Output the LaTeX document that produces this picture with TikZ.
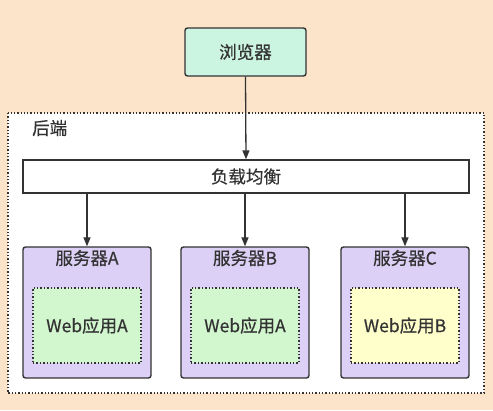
\documentclass[tikz,border=0pt]{standalone}
\usepackage{fontspec}
\setmainfont{Noto Sans CJK SC}
\newfontfamily\mfont{Noto Sans CJK SC}[FakeBold=0.5]
\usetikzlibrary{arrows.meta}
\definecolor{bgpeach}{HTML}{FCE4CA}
\definecolor{mint}{HTML}{CCF5E1}
\definecolor{lav}{HTML}{DCD0F7}
\definecolor{lgreen}{HTML}{D2F7CF}
\definecolor{lyellow}{HTML}{FFFFCC}
\definecolor{ink}{HTML}{333333}
\tikzset{
  box/.style={draw=ink, line width=1.4pt, rounded corners=2.5pt, inner sep=0pt},
  inbox/.style={draw=ink, line width=1.4pt, dotted, inner sep=0pt},
  arr/.style={draw=ink, line width=1.3pt, -{Triangle[length=9pt,width=7pt]}},
  lbl/.style={font=\mfont\fontsize{17.5}{20}\selectfont, text=ink},
}
\begin{document}
\begin{tikzpicture}[x=1pt,y=-1pt]
\useasboundingbox (0,0) rectangle (493,410);
\fill[bgpeach] (0,0) rectangle (493,410);
% backend
\draw[ink, line width=1.3pt, dotted, fill=white] (8,113) rectangle (484,393);
\node[lbl, anchor=west, inner sep=0pt] (backend) at (32,128) {后端};
% browser
\node[box, fill=mint, minimum width=121pt, minimum height=48pt, lbl] (browser) at (245.5,52) {浏览器};
% load balancer
\node[draw=ink, line width=1.4pt, fill=white, minimum width=446pt, minimum height=33pt, inner sep=0pt, lbl] (lb) at (246,176.5) {负载均衡};
\draw[arr] (browser.south) -- (lb.north);
% servers
\foreach \n/\cx/\t/\ap/\col in {sa/87/A/A/lgreen, sb/245/B/A/lgreen, sc/405/C/B/lyellow}{
  \node[box, fill=lav, minimum width=128pt, minimum height=131pt] (\n) at (\cx,312.5) {};
  \node[lbl] (\n t) at (\cx,258) {服务器\t};
  \node[inbox, fill=\col, minimum width=108pt, minimum height=75pt, lbl] (\n w) at (\cx,325.5) {Web应用\ap};
  \draw[arr] (lb.south -| \n.north) -- (\n.north);
}
\end{tikzpicture}
\end{document}
